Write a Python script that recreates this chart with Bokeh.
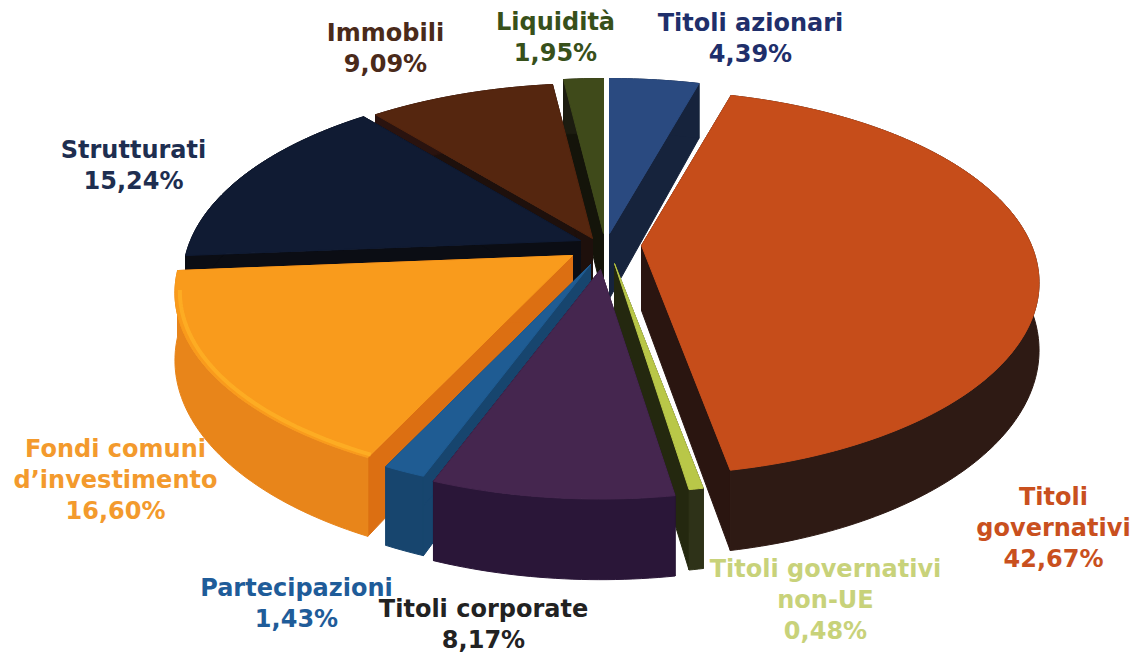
import numpy as np
from bokeh.plotting import figure
from bokeh.embed import file_html
from bokeh.resources import INLINE
from bokeh.core.properties import value

categories = ["Titoli azionari", "Titoli governativi", "Titoli governativi non-UE", "Titoli corporate",
              "Partecipazioni", "Fondi comuni d'investimento", "Strutturati", "Immobili", "Liquidità"]
shares = [4.39, 42.67, 0.48, 8.17, 1.43, 16.60, 15.24, 9.09, 1.95]

top_colors = ["#2A4A80", "#C64D1A", "#B9C748", "#45264F", "#1F5C93", "#F99B1C", "#101B33", "#55260F", "#3F4A1A"]
rim_colors = ["#16233C", "#2E1A14", "#2E3218", "#2A1638", "#17456E", "#E8851A", "#0B0D14", "#2A130F", "#1C1C10"]
cut_colors = ["#16233C", "#2A1510", "#24280F", "#1F1028", "#17456E", "#DC6F12", "#0B0D14", "#1E100C", "#14140A"]
text_colors = ["#1F2F6B", "#C9501E", "#C8D27A", "#222222", "#1F5C99", "#F39A2D", "#1E2E50", "#4A2A1A", "#37501A"]

# where each slice's tip sits once the slice is pulled out (picture pixels)
tips = [(609, 233), (641, 245), (614, 263), (600, 269), (590, 264), (572, 255), (580, 240), (592, 238), (603, 233)]
paint_order = [8, 0, 7, 6, 1, 5, 4, 2, 3]

R, Q, K, D = 390.0, 185.0, 0.194, 65.0


def project(tip, theta, r=1.0):
    X, Z = r * np.sin(theta), -r * np.cos(theta)
    s = 1.0 / (1.0 - K * Z)
    return tip[0] + R * X * s, tip[1] + Q * Z * s, D * s


p = figure(width=1136, height=653, x_range=(0, 1136), y_range=(653, 0), output_backend="svg",
           toolbar_location=None, min_border=0, outline_line_color=None, background_fill_color="white",
           border_fill_color="white")
p.axis.visible = False
p.grid.visible = False

total = sum(shares)
edges = np.concatenate([[0.0], np.cumsum(shares)]) / total * 2 * np.pi

for i in paint_order:
    tip = tips[i]
    th = np.linspace(edges[i], edges[i + 1], max(4, int((edges[i + 1] - edges[i]) * 60)))
    x, y, d = project(tip, th)
    # radial cut faces
    for k in (0, -1):
        p.patch([tip[0], x[k], x[k], tip[0]], [tip[1], y[k], y[k] + d[k], tip[1] + D],
                fill_color=cut_colors[i], line_color=cut_colors[i], line_width=1)
    # outer rim
    p.patch(np.r_[x, x[::-1]], np.r_[y, (y + d)[::-1]], fill_color=rim_colors[i], line_color=rim_colors[i], line_width=1)
    # top face
    p.patch(np.r_[tip[0], x], np.r_[tip[1], y], fill_color=top_colors[i], line_color=top_colors[i], line_width=1)
    if i == 5:
        front = th[th < edges[i] + 0.95]
        fx, fy, _ = project(tip, front, 0.988)
        p.line(fx, fy, line_color="#FFB326", line_width=4, line_alpha=0.7)

pct = [f"{v:.2f}%".replace(".", ",") for v in shares]
label_lines = [
    ["Titoli azionari", pct[0]],
    ["Titoli", "governativi", pct[1]],
    ["Titoli governativi", "non-UE", pct[2]],
    ["Titoli corporate", pct[3]],
    ["Partecipazioni", pct[4]],
    ["Fondi comuni", "d’investimento", pct[5]],
    ["Strutturati", pct[6]],
    ["Immobili", pct[7]],
    ["Liquidità", pct[8]],
]
label_spots = [(750, 22), (1053, 496), (825, 568), (483, 608), (296, 587), (115, 448), (133, 149), (385, 32), (555, 21)]

for i, lines in enumerate(label_lines):
    for j, line in enumerate(lines):
        p.text([label_spots[i][0]], [label_spots[i][1] + j * 31], text=[line], text_align="center",
               text_baseline="middle", text_color=text_colors[i], text_font=value("DejaVu Sans"),
               text_font_style="bold", text_font_size="24px")

open("out.html", "w").write(file_html(p, INLINE))
